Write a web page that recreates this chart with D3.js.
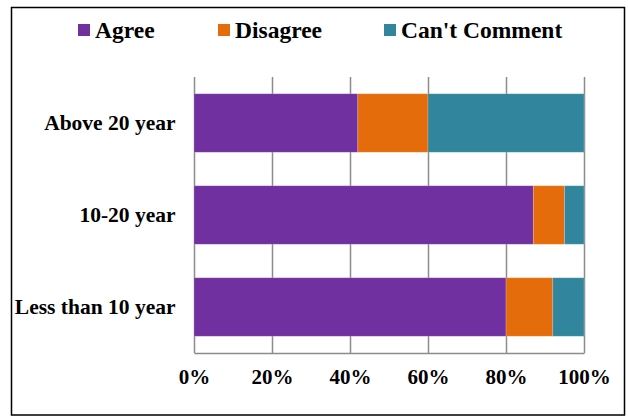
<!DOCTYPE html>
<html>
<head>
<meta charset="utf-8">
<script src="https://cdn.jsdelivr.net/npm/d3@7"></script>
<style>
  html, body { margin: 0; padding: 0; background: #fff; }
  svg { display: block; }
  text { font-family: "Liberation Serif", "Times New Roman", serif; font-weight: bold; fill: #000; }
</style>
</head>
<body>
<svg id="chart" width="628" height="417"></svg>
<script>
// Survey responses by years of experience (percent of respondents)
const categories = ["Above 20 year", "10-20 year", "Less than 10 year"];
const seriesNames = ["Agree", "Disagree", "Can't Comment"];
const agree = [42, 87, 80];
const disagree = [18, 8, 12];
const cantComment = [40, 5, 8];
const tickValues = [0, 20, 40, 60, 80, 100];
const colors = ["#7030A0", "#E46C0A", "#31859C"];

const svg = d3.select("#chart");

// Outer frame
svg.append("rect")
  .attr("x", 11.5).attr("y", 7.5)
  .attr("width", 613).attr("height", 407.5)
  .attr("fill", "none").attr("stroke", "#000").attr("stroke-width", 1.5);

const plot = { left: 194, right: 584, top: 77, bottom: 353 };

const x = d3.scaleLinear().domain([0, 100]).range([plot.left, plot.right]);
const y = d3.scaleBand().domain(categories)
  .range([plot.top, plot.bottom])
  .paddingInner(0.364).paddingOuter(0.182);

// Bottom axis with full-height gridlines
const xAxis = d3.axisBottom(x)
  .tickValues(tickValues)
  .tickFormat(d => d + "%")
  .tickSizeInner(-(plot.bottom - plot.top))
  .tickSizeOuter(0)
  .tickPadding(16.5);

const gx = svg.append("g")
  .attr("transform", `translate(0,${plot.bottom})`)
  .call(xAxis);
gx.select(".domain").attr("stroke", "#8c8c8c").attr("stroke-width", 1.5);
gx.selectAll(".tick line").attr("stroke", "#8c8c8c").attr("stroke-width", 1.5);
gx.selectAll(".tick text")
  .attr("font-family", "'Liberation Serif', 'Times New Roman', serif")
  .attr("font-weight", "bold")
  .attr("font-size", 21)
  .attr("fill", "#000");

// Stacked bars
const rows = categories.map((c, i) => ({
  category: c,
  "Agree": agree[i],
  "Disagree": disagree[i],
  "Can't Comment": cantComment[i]
}));
const stacked = d3.stack().keys(seriesNames)(rows);

svg.append("g").selectAll("g")
  .data(stacked)
  .join("g")
  .attr("fill", (d, i) => colors[i])
  .selectAll("rect")
  .data(d => d)
  .join("rect")
  .attr("x", d => x(d[0]))
  .attr("y", d => y(d.data.category))
  .attr("width", d => x(d[1]) - x(d[0]))
  .attr("height", y.bandwidth())
  .attr("stroke", "rgba(255,255,255,0.25)")
  .attr("stroke-width", 0.75);

// Category labels
svg.append("g").selectAll("text")
  .data(categories)
  .join("text")
  .attr("x", 175.5)
  .attr("y", d => y(d) + y.bandwidth() / 2)
  .attr("dy", "0.33em")
  .attr("text-anchor", "end")
  .attr("font-size", 21.5)
  .text(d => d);

// Legend
const legendX = [78, 218, 384];
const legend = svg.append("g").selectAll("g")
  .data(seriesNames)
  .join("g")
  .attr("transform", (d, i) => `translate(${legendX[i]},0)`);
legend.append("rect")
  .attr("x", 0).attr("y", 24)
  .attr("width", 12).attr("height", 12)
  .attr("fill", (d, i) => colors[i]);
legend.append("text")
  .attr("x", 17).attr("y", 38)
  .attr("font-size", 23.5)
  .text(d => d);
</script>
</body>
</html>
